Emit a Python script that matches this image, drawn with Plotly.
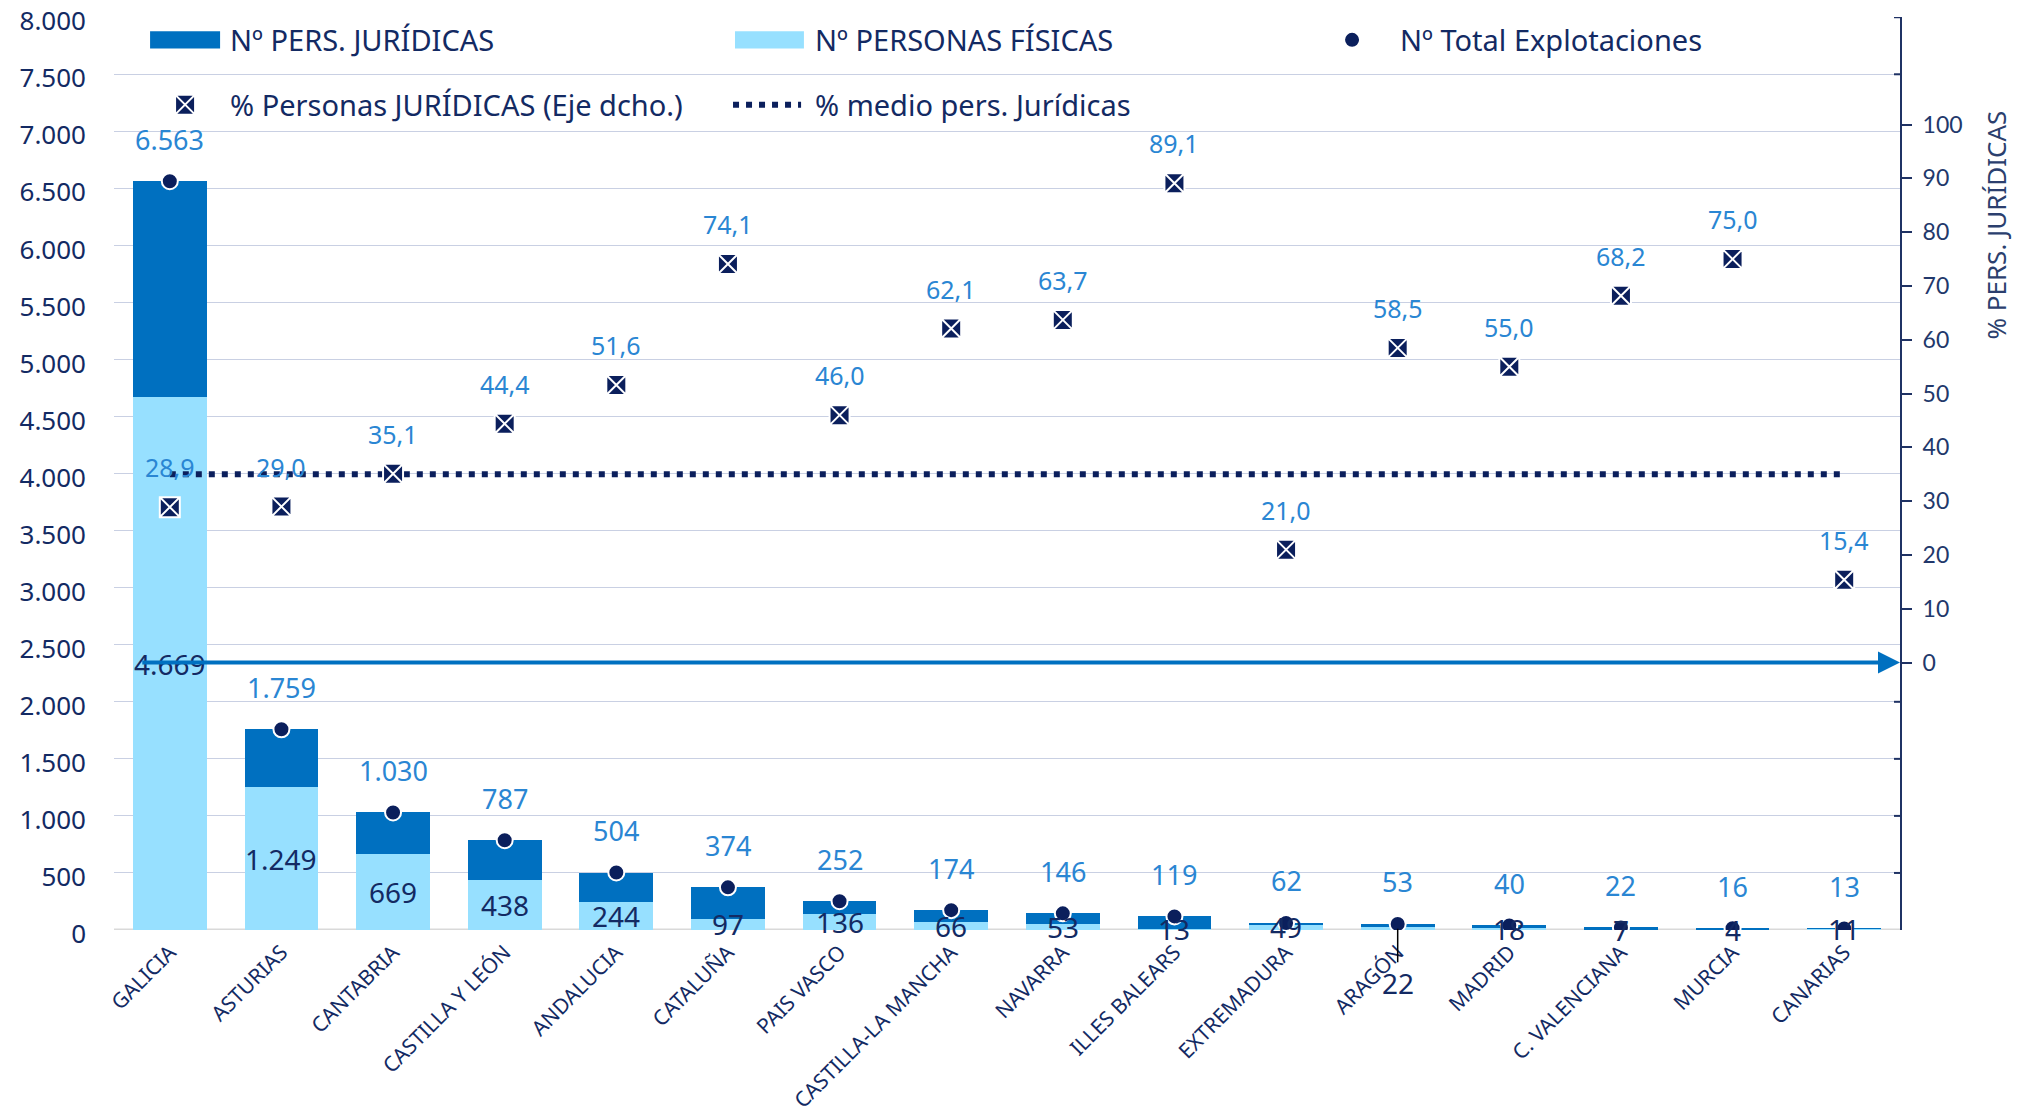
import plotly.graph_objects as go

# ---------------- data ----------------
regions = ["GALICIA", "ASTURIAS", "CANTABRIA", "CASTILLA Y LEÓN", "ANDALUCIA", "CATALUÑA",
           "PAIS VASCO", "CASTILLA-LA MANCHA", "NAVARRA", "ILLES BALEARS", "EXTREMADURA",
           "ARAGÓN", "MADRID", "C. VALENCIANA", "MURCIA", "CANARIAS"]
total_explot = [6563, 1759, 1030, 787, 504, 374, 252, 174, 146, 119, 62, 53, 40, 22, 16, 13]
pers_fisicas = [4669, 1249, 669, 438, 244, 97, 136, 66, 53, 13, 49, 22, 18, 7, 4, 11]
pers_juridicas = [1894, 510, 361, 349, 260, 277, 116, 108, 93, 106, 13, 31, 22, 15, 12, 2]
pct_juridicas = [28.9, 29.0, 35.1, 44.4, 51.6, 74.1, 46.0, 62.1, 63.7, 89.1, 21.0, 58.5, 55.0, 68.2, 75.0, 15.4]
mean_pct_juridicas = 35.0
left_ticks = list(range(0, 8001, 500))
right_ticks = list(range(0, 101, 10))

# ---------------- styles ----------------
FONT = "Noto Sans"
DARK = "#0070C0"
LIGHT = "#97E0FF"
NAVY = "#0B1F5C"
TXT = "#132A63"
LBLUE = "#2A86D3"
GRID = "#C9D0E3"
AXIS2 = "#1F3264"
Y_RANGE = [0, 8002]
Y2_RANGE = [-49.7, 120]


def fmt_int(v):
    return f"{v:,}".replace(",", ".")


def fmt_pct(v):
    return f"{v:.1f}".replace(".", ",")


fig = go.Figure()

fig.add_trace(go.Bar(x=regions, y=pers_fisicas, marker=dict(color=LIGHT, line=dict(width=0)),
                     name="Nº PERSONAS FÍSICAS", showlegend=False))
fig.add_trace(go.Bar(x=regions, y=pers_juridicas, marker=dict(color=DARK, line=dict(width=0)),
                     name="Nº PERS. JURÍDICAS", showlegend=False))
fig.add_trace(go.Scatter(x=regions, y=total_explot, mode="markers",
                         marker=dict(size=16, color=NAVY, line=dict(color="white", width=2)),
                         name="Nº Total Explotaciones", showlegend=False))
fig.add_trace(go.Scatter(x=regions, y=[mean_pct_juridicas] * len(regions), yaxis="y2", mode="lines",
                         line=dict(color=NAVY, width=6, dash="6px,7px"),
                         name="% medio pers. Jurídicas", showlegend=False))
fig.add_trace(go.Scatter(x=regions, y=pct_juridicas, yaxis="y2", mode="markers",
                         marker=dict(symbol="square-x", size=20, color=NAVY,
                                     line=dict(color="white", width=2)),
                         name="% Personas JURÍDICAS (Eje dcho.)", showlegend=False))

# ---------------- legend (manual, in plot-area fractions) ----------------
row1, row2 = 0.975, 0.904
fig.add_trace(go.Scatter(x=[0.6932], y=[row1], xaxis="x3", yaxis="y3", mode="markers",
                         marker=dict(size=16, color=NAVY, line=dict(color="white", width=2)),
                         showlegend=False, hoverinfo="skip"))
fig.add_trace(go.Scatter(x=[0.0398], y=[row2], xaxis="x3", yaxis="y3", mode="markers",
                         marker=dict(symbol="square-x", size=20, color=NAVY,
                                     line=dict(color="white", width=2)),
                         showlegend=False, hoverinfo="skip"))

shapes = [
    dict(type="rect", xref="paper", yref="paper", x0=0.0202, x1=0.0594, y0=row1 - 0.0095, y1=row1 + 0.0095,
         fillcolor=DARK, line=dict(width=0)),
    dict(type="rect", xref="paper", yref="paper", x0=0.3477, x1=0.3863, y0=row1 - 0.0095, y1=row1 + 0.0095,
         fillcolor=LIGHT, line=dict(width=0)),
    dict(type="line", xref="paper", yref="paper", x0=0.3466, x1=0.3847, y0=row2, y1=row2,
         line=dict(color=NAVY, width=6, dash="6px,7px")),
    dict(type="line", xref="paper", yref="y", x0=0, x1=1, y0=0, y1=0,
         line=dict(color="#D9D9D9", width=3), layer="below"),
]

# small inward ticks on the right axis at the left-axis grid values lying outside the 0-100 scale
for t in left_ticks:
    v2 = Y2_RANGE[0] + (t - Y_RANGE[0]) / (Y_RANGE[1] - Y_RANGE[0]) * (Y2_RANGE[1] - Y2_RANGE[0])
    if t > 0 and (v2 < right_ticks[0] or v2 > right_ticks[-1]):
        shapes.append(dict(type="line", xref="paper", yref="y", xsizemode="pixel", xanchor=1,
                           x0=-6, x1=0, y0=t, y1=t, line=dict(color=AXIS2, width=2)))

legend_items = [
    ("Nº PERS. JURÍDICAS", 0.0638, row1),
    ("Nº PERSONAS FÍSICAS", 0.3914, row1),
    ("Nº Total Explotaciones", 0.7189, row1),
    ("% Personas JURÍDICAS (Eje dcho.)", 0.0638, row2),
    ("% medio pers. Jurídicas", 0.3914, row2),
]

annotations = []
for text, lx, ly in legend_items:
    annotations.append(dict(xref="paper", yref="paper", x=lx, y=ly, text=text, showarrow=False,
                            xanchor="left", yanchor="middle",
                            font=dict(family=FONT, size=29, color=TXT)))

# totals labels
for r, v in zip(regions, total_explot):
    annotations.append(dict(x=r, y=v, xref="x", yref="y", text=fmt_int(v), showarrow=False,
                            yshift=42, font=dict(family=FONT, size=27, color=LBLUE)))
# percent labels
for r, v in zip(regions, pct_juridicas):
    annotations.append(dict(x=r, y=v, xref="x", yref="y2", text=fmt_pct(v), showarrow=False,
                            yshift=40, font=dict(family=FONT, size=25, color=LBLUE)))
# personas fisicas labels (centred in the light bar)
for r, v in zip(regions, pers_fisicas):
    if r == "ARAGÓN":
        annotations.append(dict(x=r, y=v / 2, xref="x", yref="y", text=fmt_int(v), showarrow=True,
                                arrowhead=0, arrowwidth=1.5, arrowcolor="black", ax=0, ay=54,
                                standoff=0, font=dict(family=FONT, size=28, color=TXT)))
    else:
        annotations.append(dict(x=r, y=v / 2, xref="x", yref="y", text=fmt_int(v), showarrow=False,
                                font=dict(family=FONT, size=28, color=TXT)))

# blue arrow along the right-axis zero
annotations.append(dict(xref="x domain", yref="y2", x=1.0, y=0, axref="x domain", ayref="y2",
                        ax=0.015, ay=0, text="", showarrow=True, arrowhead=2, arrowsize=1.1,
                        arrowwidth=4, arrowcolor=DARK, standoff=0))

# right-axis title
annotations.append(dict(xref="paper", yref="paper", x=1.054, y=0.772, text="% PERS. JURÍDICAS",
                        textangle=-90, showarrow=False, xanchor="center", yanchor="middle",
                        font=dict(family="Liberation Sans Narrow, Noto Sans", size=26, color="#2B3F6E")))

fig.update_layout(
    width=2033, height=1117,
    margin=dict(l=114, r=133, t=17, b=187, autoexpand=False),
    paper_bgcolor="white", plot_bgcolor="white",
    barmode="stack", bargap=0.34,
    font=dict(family=FONT, color=TXT),
    showlegend=False,
    shapes=shapes,
    annotations=annotations,
    xaxis=dict(type="category", categoryorder="array", categoryarray=regions,
               range=[-0.5, len(regions) - 0.5], automargin=False,
               showgrid=False, showline=False, zeroline=False, ticks="", ticklabelstandoff=5,
               tickangle=-45, tickfont=dict(family=FONT, size=21, color=TXT)),
    yaxis=dict(range=Y_RANGE, tickvals=left_ticks, ticktext=[fmt_int(t) for t in left_ticks],
               showgrid=True, gridcolor=GRID, gridwidth=1, zeroline=False, showline=False,
               ticks="", ticklabelstandoff=27, ticklabelshift=4, ticklabeloverflow="allow",
               automargin=False, tickfont=dict(family=FONT, size=26, color=TXT)),
    yaxis2=dict(overlaying="y", side="right", range=Y2_RANGE, tickvals=right_ticks,
                showgrid=False, zeroline=False, showline=True, linecolor=AXIS2, linewidth=2,
                ticks="outside", ticklen=10, tickwidth=2, tickcolor=AXIS2, ticklabelstandoff=6,
                automargin=False, tickfont=dict(family="Lato", size=23, color="#22386B")),
    xaxis3=dict(overlaying="x", range=[0, 1], visible=False),
    yaxis3=dict(overlaying="y", range=[0, 1], visible=False),
)

fig.write_html("out.html", config={"displayModeBar": False},
               post_script="document.body.style.margin='0';")
